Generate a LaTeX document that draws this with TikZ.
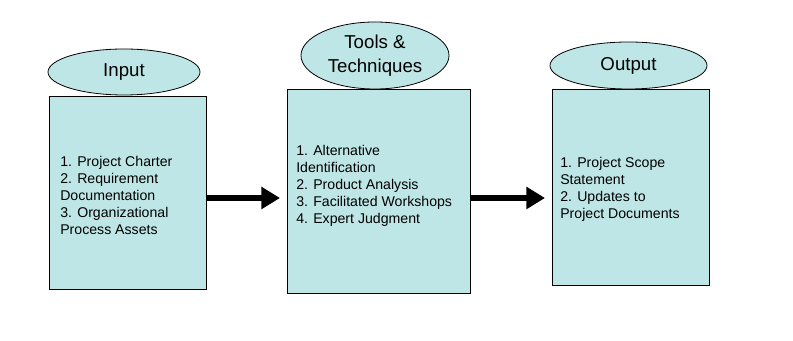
\documentclass[tikz,border=0pt]{standalone}
\usepackage{fontspec}
\setmainfont{Liberation Sans}
\usetikzlibrary{shapes.geometric,arrows.meta}
\definecolor{boxfill}{RGB}{191,230,230}
\tikzset{
  px/.style={x=0.75pt,y=-0.75pt},
  panel/.style={draw=black,fill=boxfill,line width=0.6pt,inner sep=0pt},
  titleoval/.style={draw=black,fill=boxfill,ellipse,line width=0.6pt,inner sep=0pt,
     font=\fontsize{14}{18}\selectfont,align=center},
  body/.style={anchor=west,align=left,inner sep=0pt,font=\fontsize{10.6}{12.75}\selectfont},
  bigarrow/.style={line width=4.5pt,-{Triangle[length=14pt,width=16pt]}}
}
\begin{document}
\begin{tikzpicture}[px]
\useasboundingbox (0,0) rectangle (793,341);
% boxes
\node[panel,minimum width=157*0.75pt,minimum height=193*0.75pt] (inbox) at (127.5,193) {};
\node[panel,minimum width=183*0.75pt,minimum height=204*0.75pt] (toolbox) at (378.5,191) {};
\node[panel,minimum width=157*0.75pt,minimum height=196*0.75pt] (outbox) at (630.5,187) {};
% captions
\node[titleoval,minimum width=152*0.75pt,minimum height=46*0.75pt] (incap) at (124,72) {Input};
\node[titleoval,minimum width=148*0.75pt,minimum height=67*0.75pt] (toolcap) at (375,55.5) {Tools \&\\Techniques};
\node[titleoval,minimum width=157*0.75pt,minimum height=47*0.75pt] (outcap) at (628.5,65.5) {Output};
% texts
\node[body] (intext) at (60,195) {1. Project Charter\\2. Requirement\\Documentation\\3. Organizational\\Process Assets};
\node[body] (tooltext) at (296,186) {1. Alternative\\Identification\\2. Product Analysis\\3. Facilitated Workshops\\4. Expert Judgment};
\node[body] (outtext) at (560,189) {1. Project Scope\\Statement\\2. Updates to\\Project Documents};
% arrows
\coordinate (a1e) at (280,198);
\coordinate (a2e) at (545,198);
\draw[bigarrow] (inbox.east |- a1e) -- (a1e);
\draw[bigarrow] (toolbox.east |- a2e) -- (a2e);
\end{tikzpicture}
\end{document}
